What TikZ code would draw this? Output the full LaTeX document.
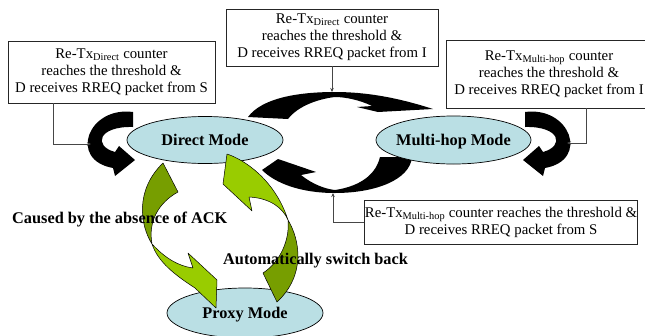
\documentclass[tikz,border=0pt]{standalone}
\usepackage{fontspec}
\setmainfont{Liberation Serif}
\usetikzlibrary{shapes.geometric,arrows.meta}
\definecolor{modeblue}{RGB}{186,223,228}
\definecolor{lightgreen}{RGB}{153,204,0}
\definecolor{darkgreen}{RGB}{119,158,0}
\definecolor{connc}{RGB}{70,70,70}
\tikzset{
  modeshape/.style={ellipse, draw=black, line width=0.7pt, fill=modeblue, inner sep=0pt},
  modelabel/.style={font=\fontsize{16.3}{19}\selectfont\bfseries, inner sep=0pt, text height=10.8pt, text depth=0pt},
  cond/.style={draw=black!85, line width=0.8pt, fill=white, align=center, font=\fontsize{14.8}{17}\selectfont, inner sep=0pt},
  conn/.style={draw=connc, line width=0.6pt, -{Stealth[length=4pt,width=3.5pt]}},
  blackarrow/.style={fill=black},
  greenlight/.style={fill=lightgreen, draw=black, line width=0.5pt, line join=round},
  greendark/.style={fill=darkgreen, draw=black, line width=0.5pt, line join=round},
  caption/.style={font=\fontsize{16.3}{19}\selectfont\bfseries, inner sep=0pt},
  sidearrow/.pic={
    \fill[blackarrow] (525,112) .. controls (570,106) and (590,160) .. (545,168)
      -- (543,176) -- (523,160) -- (539,146) -- (543,152)
      .. controls (565,146) and (560,126) .. (525,127) -- cycle;
  }
}
\begin{document}
\begin{tikzpicture}[x=1pt,y=-1pt]
\clip (0,0) rectangle (645,335);
\fill[white] (0,0) rectangle (645,335);

% black curved arrows
\pic at (0,0) {sidearrow};
\pic[xscale=-1] at (658,0) {sidearrow};
% upper arrow: Direct -> Multi-hop
\fill[blackarrow] (248,117) .. controls (262,98) and (298,92) .. (335,92)
  .. controls (372,92) and (405,100) .. (433,109)
  -- (378,112) -- (357,107) -- (372,106)
  .. controls (360,100) and (345,97) .. (335,97)
  .. controls (318,99) and (298,106) .. (288,119) -- cycle;
% lower arrow: Multi-hop -> Direct
\fill[blackarrow] (412,157) .. controls (410,180) and (375,193) .. (335,193)
  .. controls (300,193) and (275,183) .. (262,170)
  -- (278,159) -- (316,172) -- (301,175)
  .. controls (312,184) and (325,189) .. (335,190)
  .. controls (355,187) and (375,178) .. (380,157) -- cycle;

% mode ellipses
\node[modeshape, minimum width=156pt, minimum height=47pt] (direct) at (205,140) {};
\node[modeshape, minimum width=155pt, minimum height=48pt] (multi) at (453.5,140) {};
\node[modeshape, minimum width=156pt, minimum height=50pt] (proxy) at (245,313) {};

% green arrows
\filldraw[greendark] (163,163) -- (178,192) .. controls (158,203) and (148,222) .. (152,244)
  .. controls (140,225) and (135,190) .. (163,163) -- cycle;
\filldraw[greenlight] (152,244) .. controls (165,258) and (178,266) .. (193,268)
  -- (188,253) -- (217,280) -- (216,308) -- (195,288)
  .. controls (175,275) and (158,262) .. (152,244) -- cycle;
\filldraw[greenlight] (227,154) .. controls (245,160) and (275,180) .. (288,220)
  .. controls (283,208) and (270,198) .. (249,197) -- (252,211) -- (223,184) -- cycle;
\filldraw[greendark] (288,220) .. controls (300,240) and (306,275) .. (277,302)
  -- (263,273) .. controls (280,262) and (290,240) .. (288,220) -- cycle;

% mode labels
\node[modelabel] (directlbl) at (direct) {Direct Mode};
\node[modelabel] (multilbl) at (multi) {Multi-hop Mode};
\node[modelabel] (proxylbl) at (proxy) {Proxy Mode};

% condition boxes
\node[cond, minimum width=207pt, minimum height=62pt] (lbox) at (111.5,72)
  {Re-Tx\textsubscript{Direct} counter\\reaches the threshold \&\\D receives RREQ packet from S};
\node[cond, minimum width=212pt, minimum height=57pt] (tbox) at (332,37.5)
  {Re-Tx\textsubscript{Direct} counter\\reaches the threshold \&\\D receives RREQ packet from I};
\node[cond, minimum width=205pt, minimum height=68pt] (rbox) at (549,74)
  {Re-Tx\textsubscript{Multi-hop} counter\\reaches the threshold \&\\D receives RREQ packet from I};
\node[cond, minimum width=270pt, minimum height=44pt] (bbox) at (501,222)
  {Re-Tx\textsubscript{Multi-hop} counter reaches the threshold \&\\D receives RREQ packet from S};

% connector targets
\coordinate (lt) at (91,144);
\coordinate (tt) at (332,92);
\coordinate (rt) at (567,143);
\coordinate (bt) at (333,193);

\draw[conn] ([xshift=46pt]lbox.south west) |- (lt);
\draw[conn] (tbox) -- (tt);
\draw[conn] ([xshift=140.5pt]rbox.south west) |- (rt);
\draw[conn] (bbox.west) -| (bt);

% captions
\node[caption, anchor=west] (absent) at (12,220) {Caused by the absence of ACK};
\node[caption, anchor=west] (switchback) at (223,261) {Automatically switch back};
\end{tikzpicture}
\end{document}
